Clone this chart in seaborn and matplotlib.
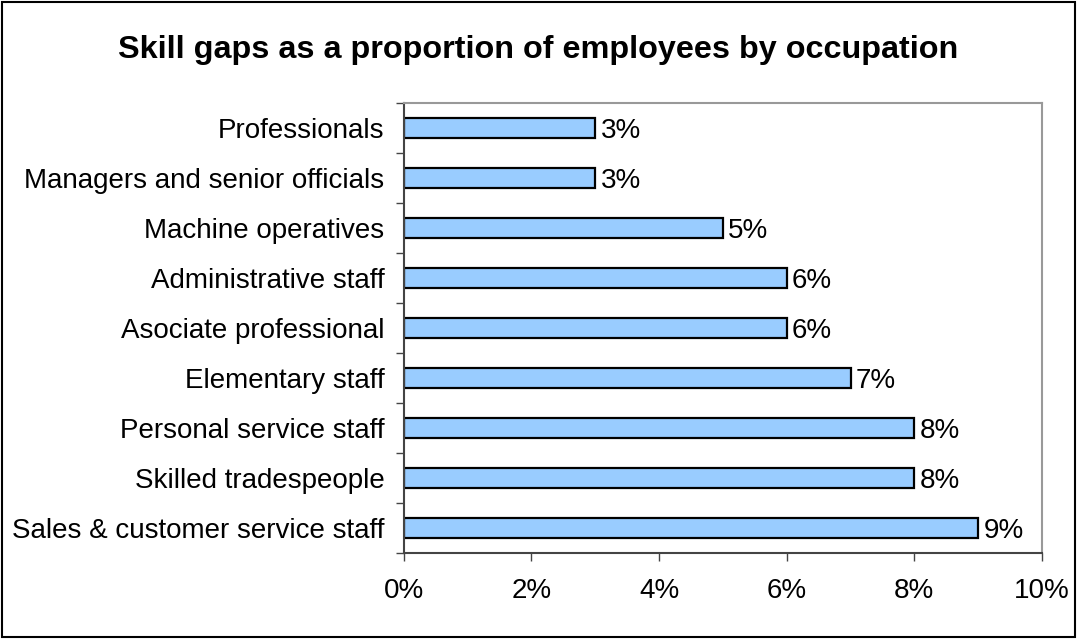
import numpy as np
import pandas as pd
import matplotlib.pyplot as plt
import seaborn as sns
from matplotlib.ticker import FuncFormatter, FixedLocator

occupations = ["Professionals", "Managers and senior officials", "Machine operatives",
               "Administrative staff", "Asociate professional", "Elementary staff",
               "Personal service staff", "Skilled tradespeople", "Sales & customer service staff"]
gap_pct = [3, 3, 5, 6, 6, 7, 8, 8, 9]

df = pd.DataFrame({"occupation": occupations, "gap": gap_pct})

sns.set_theme(style="white", rc={"text.color": "black", "xtick.color": "black",
                                 "ytick.color": "black", "axes.labelcolor": "black"})
plt.rcParams["font.family"] = ["Liberation Sans", "DejaVu Sans"]

fs = 20

fig = plt.figure(figsize=(10.77, 6.39), dpi=100)
ax = fig.add_axes([0.375, 0.1346, 0.5925, 0.7042])

sns.barplot(data=df, x="gap", y="occupation", orient="h", color="#99CCFF",
            edgecolor="black", linewidth=1.6, width=0.4, saturation=1, ax=ax)

# value labels
for i, v in enumerate(gap_pct):
    ax.text(v + 0.08, i, f"{v}%", va="center_baseline", ha="left", fontsize=fs)

ax.set_xlim(0, 10)
ax.set_ylim(len(occupations) - 0.5, -0.5)
ax.set_xticks(np.arange(0, 11, 2))
ax.xaxis.set_major_formatter(FuncFormatter(lambda x, p: f"{x:.0f}%"))
ax.set_xlabel("")
ax.set_ylabel("")

# ticks between categories on y, labels centred
ax.yaxis.set_major_locator(FixedLocator(np.arange(-0.5, len(occupations), 1)))
ax.yaxis.set_major_formatter(FuncFormatter(lambda x, p: ""))
ax.yaxis.set_minor_locator(FixedLocator(np.arange(len(occupations))))
ax.set_yticklabels(occupations, minor=True)
ax.tick_params(axis="y", which="major", direction="out", length=6, width=1, color="#444444", left=True)
ax.tick_params(axis="y", which="minor", length=0, pad=14, labelsize=fs)
ax.tick_params(axis="x", direction="out", length=6, width=1, color="#444444", bottom=True,
               pad=12, labelsize=fs)

for side in ["left", "bottom"]:
    ax.spines[side].set_color("#444444")
    ax.spines[side].set_linewidth(1.5)
for side in ["top", "right"]:
    ax.spines[side].set_color("#999999")
    ax.spines[side].set_linewidth(1.5)

fig.text(0.5, 0.921, "Skill gaps as a proportion of employees by occupation",
         ha="center", va="center", fontsize=23.3, fontweight="bold")

# outer border
fig.patches.append(plt.Rectangle((0.002, 0.003), 0.996, 0.994, transform=fig.transFigure,
                                 fill=False, edgecolor="black", linewidth=1.5))

fig.savefig("out.png", dpi=100)
